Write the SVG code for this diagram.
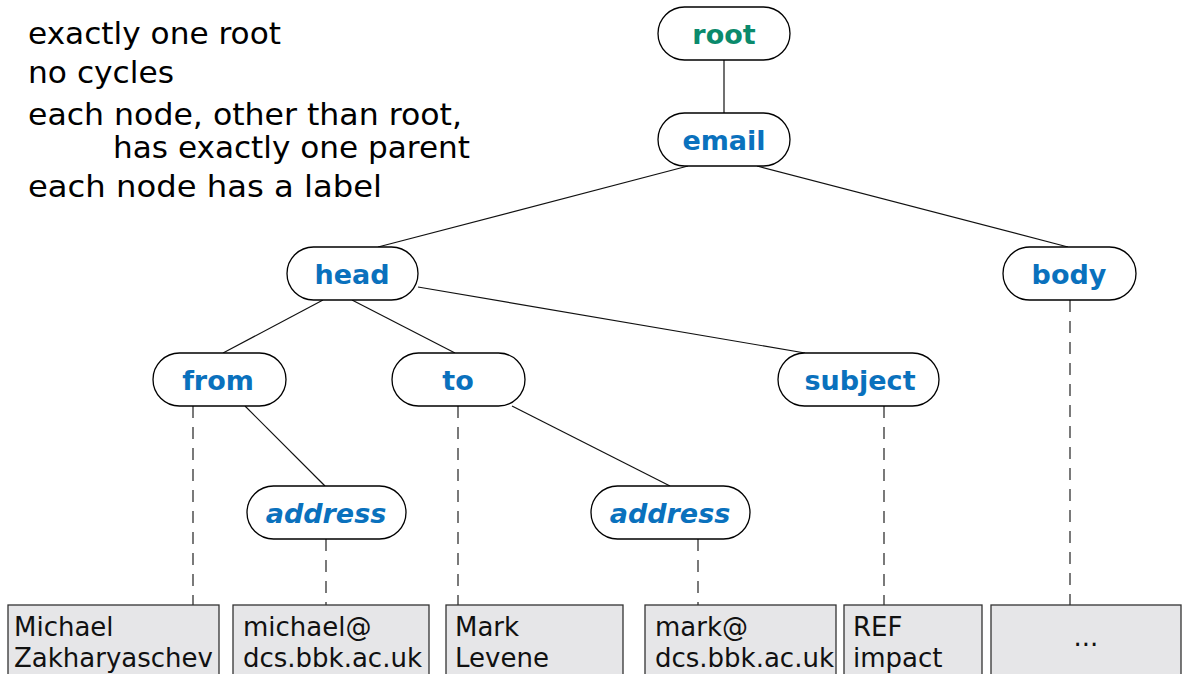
<svg xmlns="http://www.w3.org/2000/svg" width="1183" height="674" viewBox="0 0 1183 674">
<style>
.rule{font-family:"DejaVu Sans",sans-serif;font-size:30px;fill:#000}
.node rect{fill:#fff;stroke:#000;stroke-width:1.3}
.lbl{font-family:"DejaVu Sans",sans-serif;font-size:27px;font-weight:bold;fill:#0a71bd;text-anchor:middle}
.it{font-style:italic}
.green{fill:#0b8a6c}
.leaf rect{fill:#e6e6e8;stroke:#333;stroke-width:1.3}
.leaf text{font-family:"DejaVu Sans",sans-serif;font-size:26px;fill:#111}
.edge{stroke:#111;stroke-width:1.2;fill:none}
.dash{stroke:#222;stroke-width:1.2;stroke-dasharray:12 9;fill:none}
</style>
<rect width="1183" height="674" fill="#fff"/>
<g id="rules">
<text class="rule" x="28" y="44" textLength="253" lengthAdjust="spacingAndGlyphs">exactly one root</text>
<text class="rule" x="28" y="83" textLength="146" lengthAdjust="spacingAndGlyphs">no cycles</text>
<text class="rule" x="28" y="125" textLength="434" lengthAdjust="spacingAndGlyphs">each node, other than root,</text>
<text class="rule" x="113" y="158" textLength="357" lengthAdjust="spacingAndGlyphs">has exactly one parent</text>
<text class="rule" x="28" y="197" textLength="354" lengthAdjust="spacingAndGlyphs">each node has a label</text>
</g>
<g id="connectors">
<line class="edge" x1="724" y1="60" x2="724" y2="113"/>
<line class="edge" x1="688" y1="166" x2="378" y2="247"/>
<line class="edge" x1="757" y1="166" x2="1068" y2="247"/>
<line class="edge" x1="323" y1="300" x2="223" y2="353"/>
<line class="edge" x1="352" y1="300" x2="455" y2="353"/>
<line class="edge" x1="418" y1="287" x2="805" y2="353"/>
<line class="edge" x1="245" y1="406" x2="325" y2="486"/>
<line class="edge" x1="512" y1="406" x2="670" y2="486"/>
<line class="dash" x1="193" y1="406" x2="193" y2="605"/>
<line class="dash" x1="326" y1="539" x2="326" y2="605"/>
<line class="dash" x1="458" y1="406" x2="458" y2="605"/>
<line class="dash" x1="698" y1="539" x2="698" y2="605"/>
<line class="dash" x1="884" y1="406" x2="884" y2="605"/>
<line class="dash" x1="1070" y1="300" x2="1070" y2="605"/>
</g>
<g id="n-root" class="node"><rect x="658" y="7" width="132" height="53" rx="26.5"/><text class="lbl green" x="724" y="44">root</text></g>
<g id="n-email" class="node"><rect x="658" y="113" width="132" height="53" rx="26.5"/><text class="lbl" x="724" y="150">email</text></g>
<g id="n-head" class="node"><rect x="287" y="247" width="131" height="53" rx="26.5"/><text class="lbl" x="352" y="284">head</text></g>
<g id="n-body" class="node"><rect x="1003" y="247" width="133" height="53" rx="26.5"/><text class="lbl" x="1069" y="284">body</text></g>
<g id="n-from" class="node"><rect x="153" y="353" width="133" height="53" rx="26.5"/><text class="lbl" x="218" y="390">from</text></g>
<g id="n-to" class="node"><rect x="392" y="353" width="133" height="53" rx="26.5"/><text class="lbl" x="458" y="390">to</text></g>
<g id="n-subject" class="node"><rect x="778" y="353" width="161" height="53" rx="26.5"/><text class="lbl" x="860" y="390">subject</text></g>
<g id="n-address1" class="node"><rect x="247" y="486" width="159" height="53" rx="26.5"/><text class="lbl it" x="326" y="523">address</text></g>
<g id="n-address2" class="node"><rect x="591" y="486" width="159" height="53" rx="26.5"/><text class="lbl it" x="670" y="523">address</text></g>
<g id="leaf1" class="leaf"><rect x="8" y="605" width="211" height="80"/><text x="14" y="636">Michael</text><text x="14" y="667">Zakharyaschev</text></g>
<g id="leaf2" class="leaf"><rect x="233" y="605" width="196" height="80"/><text x="243" y="636">michael@</text><text x="243" y="667">dcs.bbk.ac.uk</text></g>
<g id="leaf3" class="leaf"><rect x="446" y="605" width="177" height="80"/><text x="455" y="636">Mark</text><text x="455" y="667">Levene</text></g>
<g id="leaf4" class="leaf"><rect x="645" y="605" width="191" height="80"/><text x="655" y="636">mark@</text><text x="655" y="667">dcs.bbk.ac.uk</text></g>
<g id="leaf5" class="leaf"><rect x="844" y="605" width="138" height="80"/><text x="853" y="636">REF</text><text x="853" y="667">impact</text></g>
<g id="leaf6" class="leaf"><rect x="991" y="605" width="190" height="80"/><text x="1086" y="646" text-anchor="middle">...</text></g>
</svg>
